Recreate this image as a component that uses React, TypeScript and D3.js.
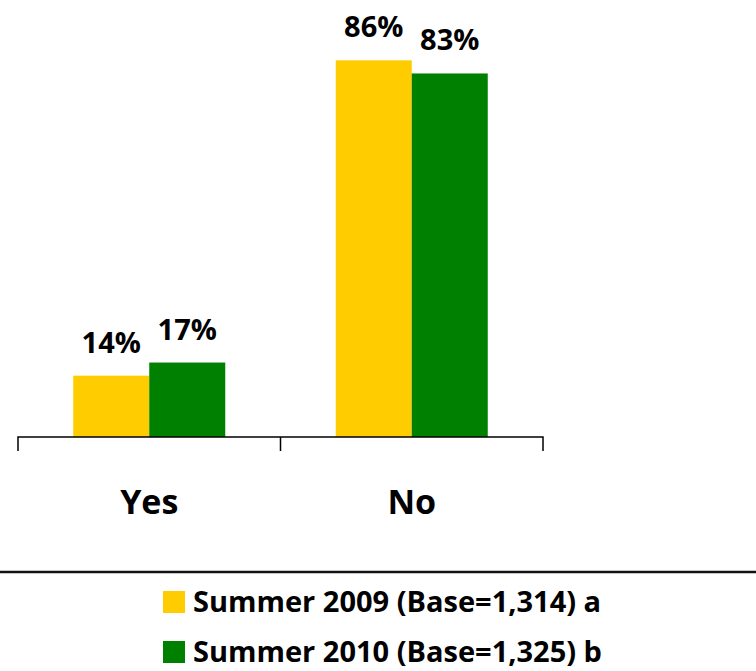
import { useEffect, useRef } from "react"
import * as d3 from "d3"

const categories = ["Yes", "No"]
const seriesNames = ["Summer 2009 (Base=1,314) a", "Summer 2010 (Base=1,325) b"]
const summer2009 = [14, 86]
const summer2010 = [17, 83]
const seriesColors = ["#FFCC00", "#008000"]

const W = 756
const H = 671
const FONT = "'Open Sans', Lato, sans-serif"

export default function App() {
  const svgRef = useRef<SVGSVGElement>(null)

  useEffect(() => {
    if (!svgRef.current) return
    const svg = d3.select(svgRef.current)
    svg.selectAll("*").remove()

    const baseline = 437
    const x = d3.scaleBand().domain(categories).range([18, 543]).paddingInner(0).paddingOuter(0)
    const y = d3.scaleLinear().domain([0, 100]).range([baseline, -1])
    const seriesValues = [summer2009, summer2010]
    const inner = d3.scaleBand().domain(["0", "1"]).range([0, 152])

    // bars
    seriesValues.forEach((vals, s) => {
      svg
        .append("g")
        .selectAll("rect")
        .data(vals)
        .enter()
        .append("rect")
        .attr("x", (d, i) => (x(categories[i]) || 0) + x.bandwidth() / 2 - 76 + (inner(String(s)) || 0))
        .attr("y", (d) => y(d))
        .attr("width", inner.bandwidth())
        .attr("height", (d) => baseline - y(d))
        .attr("fill", seriesColors[s])

      svg
        .append("g")
        .selectAll("text")
        .data(vals)
        .enter()
        .append("text")
        .attr("x", (d, i) => (x(categories[i]) || 0) + x.bandwidth() / 2 - 76 + (inner(String(s)) || 0) + inner.bandwidth() / 2)
        .attr("y", (d) => y(d) - 23)
        .attr("text-anchor", "middle")
        .style("font-family", FONT)
        .style("font-weight", "bold")
        .style("font-size", "29px")
        .text((d) => `${d}%`)
    })

    // x axis
    const axis = svg.append("g").attr("transform", `translate(0, ${baseline})`)
    axis
      .call(d3.axisBottom(x).tickSize(0).tickFormat(() => ""))
      .select(".domain")
      .attr("d", `M18,14V0H543V14`)
      .attr("stroke", "#000")
      .attr("stroke-width", 1.5)
    axis.selectAll(".tick line").remove()
    axis
      .append("line")
      .attr("x1", x("No") || 0)
      .attr("x2", x("No") || 0)
      .attr("y1", 0)
      .attr("y2", 14)
      .attr("stroke", "#000")
      .attr("stroke-width", 1.5)
    axis
      .selectAll(".cat")
      .data(categories)
      .enter()
      .append("text")
      .attr("class", "cat")
      .attr("x", (d) => (x(d) || 0) + x.bandwidth() / 2)
      .attr("y", 77)
      .attr("text-anchor", "middle")
      .attr("fill", "#000")
      .style("font-family", FONT)
      .style("font-weight", "bold")
      .style("font-size", "34px")
      .text((d) => d)

    // separator line
    svg
      .append("line")
      .attr("x1", 0)
      .attr("x2", W)
      .attr("y1", 572)
      .attr("y2", 572)
      .attr("stroke", "#111")
      .attr("stroke-width", 2.5)

    // legend
    const legend = svg
      .append("g")
      .selectAll("g")
      .data(seriesNames)
      .enter()
      .append("g")
      .attr("transform", (d, i) => `translate(163, ${591 + i * 50})`)
    legend
      .append("rect")
      .attr("width", 22)
      .attr("height", 22)
      .attr("fill", (d, i) => seriesColors[i])
    legend
      .append("text")
      .attr("x", 30)
      .attr("y", 21)
      .style("font-family", FONT)
      .style("font-weight", "bold")
      .style("font-size", "29px")
      .text((d) => d)
  }, [])

  return (
    <svg
      ref={svgRef}
      width={W}
      height={H}
      style={{ position: "absolute", left: 0, top: 0, background: "#fff" }}
    ></svg>
  )
}
